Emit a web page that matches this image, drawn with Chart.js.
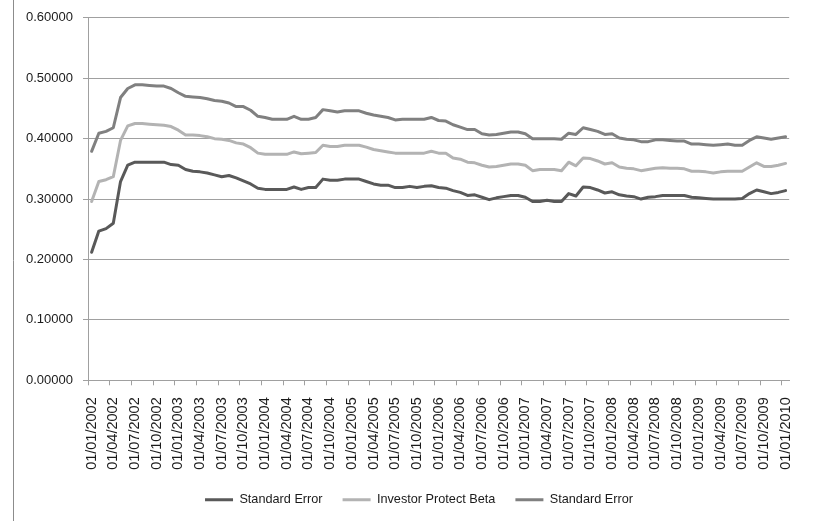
<!DOCTYPE html>
<html>
<head>
<meta charset="utf-8">
<title>Standard Error and Investor Protect Beta, 2002–2010</title>
<script src="https://cdn.jsdelivr.net/npm/chart.js@4/dist/chart.umd.min.js"></script>
<style>
  html, body { margin: 0; padding: 0; background: #ffffff; }
  #wrap { width: 815px; height: 521px; }
</style>
</head>
<body>
<div id="wrap"><canvas id="chart" width="815" height="521"></canvas></div>
<script>
// Monthly observation dates (dd/mm/yyyy)
const months = [
  "01/01/2002","01/02/2002","01/03/2002","01/04/2002","01/05/2002","01/06/2002","01/07/2002","01/08/2002","01/09/2002","01/10/2002","01/11/2002","01/12/2002",
  "01/01/2003","01/02/2003","01/03/2003","01/04/2003","01/05/2003","01/06/2003","01/07/2003","01/08/2003","01/09/2003","01/10/2003","01/11/2003","01/12/2003",
  "01/01/2004","01/02/2004","01/03/2004","01/04/2004","01/05/2004","01/06/2004","01/07/2004","01/08/2004","01/09/2004","01/10/2004","01/11/2004","01/12/2004",
  "01/01/2005","01/02/2005","01/03/2005","01/04/2005","01/05/2005","01/06/2005","01/07/2005","01/08/2005","01/09/2005","01/10/2005","01/11/2005","01/12/2005",
  "01/01/2006","01/02/2006","01/03/2006","01/04/2006","01/05/2006","01/06/2006","01/07/2006","01/08/2006","01/09/2006","01/10/2006","01/11/2006","01/12/2006",
  "01/01/2007","01/02/2007","01/03/2007","01/04/2007","01/05/2007","01/06/2007","01/07/2007","01/08/2007","01/09/2007","01/10/2007","01/11/2007","01/12/2007",
  "01/01/2008","01/02/2008","01/03/2008","01/04/2008","01/05/2008","01/06/2008","01/07/2008","01/08/2008","01/09/2008","01/10/2008","01/11/2008","01/12/2008",
  "01/01/2009","01/02/2009","01/03/2009","01/04/2009","01/05/2009","01/06/2009","01/07/2009","01/08/2009","01/09/2009","01/10/2009","01/11/2009","01/12/2009",
  "01/01/2010"
];

// Lower standard-error band
const standardErrorLow = [
  0.212,0.247,0.251,0.260,0.329,0.356,0.361,0.361,0.361,0.361,0.361,0.357,
  0.356,0.349,0.346,0.345,0.343,0.340,0.337,0.339,0.335,0.330,0.325,0.318,
  0.316,0.316,0.316,0.316,0.320,0.316,0.319,0.319,0.333,0.331,0.331,0.333,
  0.333,0.333,0.329,0.325,0.323,0.323,0.319,0.319,0.321,0.319,0.321,0.322,
  0.319,0.318,0.314,0.311,0.306,0.307,0.303,0.299,0.302,0.304,0.306,0.306,
  0.303,0.296,0.296,0.298,0.296,0.296,0.309,0.305,0.320,0.319,0.315,0.310,
  0.312,0.307,0.305,0.304,0.300,0.303,0.304,0.306,0.306,0.306,0.306,0.303,
  0.302,0.301,0.300,0.300,0.300,0.300,0.301,0.309,0.315,0.312,0.309,0.311,
  0.314
];

// Investor protect beta estimate
const investorProtectBeta = [
  0.296,0.329,0.332,0.337,0.397,0.421,0.425,0.425,0.424,0.423,0.422,0.420,
  0.414,0.406,0.406,0.405,0.403,0.400,0.399,0.397,0.393,0.391,0.385,0.376,
  0.374,0.374,0.374,0.374,0.378,0.375,0.376,0.377,0.389,0.387,0.387,0.389,
  0.389,0.389,0.386,0.382,0.380,0.378,0.376,0.376,0.376,0.376,0.376,0.379,
  0.376,0.376,0.368,0.366,0.361,0.360,0.356,0.353,0.354,0.356,0.358,0.358,
  0.356,0.347,0.349,0.349,0.349,0.347,0.361,0.355,0.368,0.367,0.363,0.358,
  0.360,0.353,0.351,0.350,0.347,0.349,0.351,0.352,0.351,0.351,0.350,0.346,
  0.346,0.345,0.343,0.345,0.346,0.346,0.346,0.353,0.360,0.354,0.354,0.356,
  0.359
];

// Upper standard-error band
const standardErrorHigh = [
  0.379,0.409,0.412,0.418,0.468,0.483,0.489,0.489,0.488,0.487,0.487,0.483,
  0.476,0.470,0.469,0.468,0.466,0.463,0.462,0.459,0.453,0.453,0.447,0.437,
  0.435,0.432,0.432,0.432,0.437,0.432,0.432,0.435,0.448,0.446,0.444,0.446,
  0.446,0.446,0.442,0.439,0.437,0.435,0.431,0.432,0.432,0.432,0.432,0.435,
  0.430,0.429,0.423,0.419,0.415,0.415,0.408,0.406,0.407,0.409,0.411,0.411,
  0.408,0.400,0.400,0.400,0.400,0.399,0.409,0.407,0.418,0.415,0.412,0.407,
  0.408,0.401,0.399,0.398,0.395,0.395,0.398,0.398,0.397,0.396,0.396,0.391,
  0.391,0.390,0.389,0.390,0.391,0.389,0.389,0.397,0.403,0.401,0.399,0.401,
  0.403
];

const seriesNames = ["Standard Error", "Investor Protect Beta", "Standard Error"];
const yTicks = [0, 0.1, 0.2, 0.3, 0.4, 0.5, 0.6];

const FONT = "'Liberation Sans', Arial, sans-serif";
const TEXT = "#1a1a1a";
const GRID = "#a0a0a0";
const LABEL_EVERY = 3;

// Thin frame line along the left edge, and a small nudge that centres the legend row
const frameAndLegend = {
  id: "frameAndLegend",
  afterLayout(chart) {
    const lg = chart.legend;
    if (lg) { lg.left += 7; lg.right += 7; }
  },
  beforeDraw(chart) {
    const ctx = chart.ctx;
    ctx.save();
    ctx.strokeStyle = "#8c8c8c";
    ctx.lineWidth = 1;
    ctx.beginPath();
    ctx.moveTo(13.5, 0);
    ctx.lineTo(13.5, chart.height);
    ctx.stroke();
    ctx.restore();
  }
};

const lineStyle = (color) => ({
  borderColor: color,
  backgroundColor: color,
  borderWidth: 3,
  pointRadius: 0,
  pointHoverRadius: 0,
  tension: 0,
  fill: false,
  borderJoinStyle: "round",
  borderCapStyle: "round"
});

new Chart(document.getElementById("chart"), {
  type: "line",
  data: {
    labels: months,
    datasets: [
      Object.assign({ label: seriesNames[0], data: standardErrorLow }, lineStyle("#595959")),
      Object.assign({ label: seriesNames[1], data: investorProtectBeta }, lineStyle("#b3b3b3")),
      Object.assign({ label: seriesNames[2], data: standardErrorHigh }, lineStyle("#808080"))
    ]
  },
  options: {
    responsive: false,
    animation: false,
    events: [],
    layout: { padding: { left: 16, right: 7, top: 15, bottom: 5 } },
    scales: {
      x: {
        type: "category",
        offset: true,
        grid: {
          offset: true,
          drawOnChartArea: false,
          drawTicks: true,
          tickLength: 5,
          tickColor: (ctx) => (ctx.index % LABEL_EVERY === 0 ? GRID : "rgba(0,0,0,0)")
        },
        border: { display: true, color: GRID, width: 1 },
        ticks: {
          autoSkip: false,
          maxRotation: 90,
          minRotation: 90,
          padding: 12,
          color: TEXT,
          font: { family: FONT, size: 14.5 },
          callback: function (value, index) {
            return index % LABEL_EVERY === 0 ? months[index] : "";
          }
        },
        afterFit: (scale) => { scale.height = 93; }
      },
      y: {
        min: 0,
        max: 0.6,
        afterBuildTicks: (scale) => { scale.ticks = yTicks.map((v) => ({ value: v })); },
        grid: { color: GRID, lineWidth: 1, tickLength: 5, tickColor: GRID },
        border: { display: true, color: GRID, width: 1 },
        ticks: {
          padding: 10,
          color: TEXT,
          font: { family: FONT, size: 13 },
          callback: (v) => Number(v).toFixed(5)
        },
        afterFit: (scale) => { scale.width = 72; }
      }
    },
    plugins: {
      legend: {
        display: true,
        position: "bottom",
        labels: {
          usePointStyle: true,
          pointStyle: "line",
          pointStyleWidth: 28,
          padding: 20,
          color: TEXT,
          font: { family: FONT, size: 12.7 }
        }
      },
      tooltip: { enabled: false },
      title: { display: false }
    }
  },
  plugins: [frameAndLegend]
});
</script>
</body>
</html>
